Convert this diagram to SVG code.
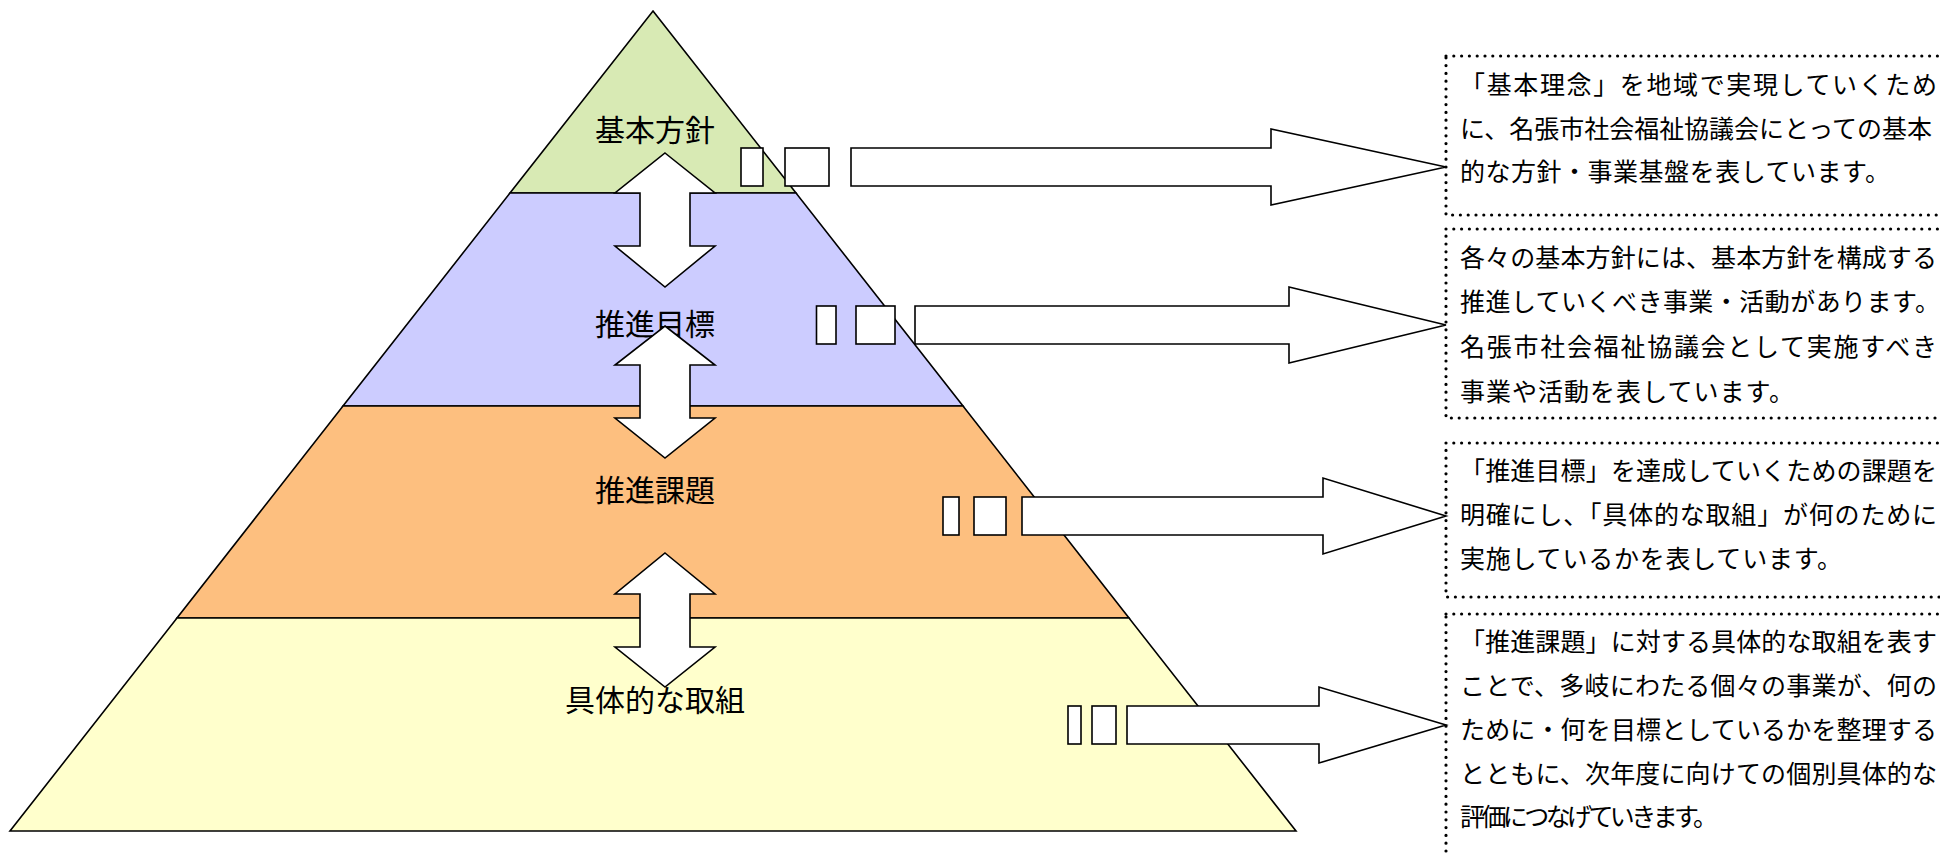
<svg xmlns="http://www.w3.org/2000/svg" width="1940" height="857" viewBox="0 0 1940 857">
<defs>
<style>
.tier{stroke:#000;stroke-width:1.6;stroke-linejoin:miter}
.lbl{font-family:"Noto Sans CJK JP","Noto Sans CJK SC",sans-serif;font-size:30px;fill:#000;text-anchor:middle;dominant-baseline:central}
.arw{fill:#fff;stroke:#000;stroke-width:1.6;stroke-linejoin:miter}
.box{fill:none;stroke:#000;stroke-width:3.2;stroke-dasharray:0 7.8;stroke-linecap:round}
.txt{font-family:"Noto Sans CJK JP","Noto Sans CJK SC",sans-serif;font-size:25px;fill:#000;dominant-baseline:central}
</style>
</defs>
<rect x="0" y="0" width="1940" height="857" fill="#fff"/>

<g id="tier-kihonhoshin">
<polygon class="tier" fill="#D8EAB4" points="653,11 796,193 510,193"/>
<text class="lbl" x="655" y="128">基本方針</text>
</g>
<g id="tier-suishinmokuhyo">
<polygon class="tier" fill="#CCCCFF" points="510,193 796,193 963,406 343,406"/>
<text class="lbl" x="655" y="322">推進目標</text>
</g>
<g id="tier-suishinkadai">
<polygon class="tier" fill="#FDBF7F" points="343,406 963,406 1129,618 177,618"/>
<text class="lbl" x="655" y="488">推進課題</text>
</g>
<g id="tier-gutaiteki">
<polygon class="tier" fill="#FFFFCC" points="177,618 1129,618 1296,831 10,831"/>
<text class="lbl" x="655" y="698">具体的な取組</text>
</g>

<g id="connectors">
<polygon class="arw" points="665,153 715,193 690,193 690,246 715,246 665,287 615,246 640,246 640,193 615,193"/>
<polygon class="arw" points="665,326 715,365 690,365 690,418 715,418 665,458 615,418 640,418 640,365 615,365"/>
<polygon class="arw" points="665,553 715,594 690,594 690,647 715,647 665,687 615,647 640,647 640,594 615,594"/>

<rect class="arw" x="741" y="148" width="22" height="38"/>
<rect class="arw" x="785" y="148" width="44" height="38"/>
<polygon class="arw" points="851,148 1271,148 1271,129 1446,167 1271,205 1271,186 851,186"/>

<rect class="arw" x="816.5" y="306" width="19.5" height="38"/>
<rect class="arw" x="856" y="306" width="39" height="38"/>
<polygon class="arw" points="915,306 1289,306 1289,287 1446,325 1289,363 1289,344 915,344"/>

<rect class="arw" x="943" y="497" width="16" height="38"/>
<rect class="arw" x="974" y="497" width="32" height="38"/>
<polygon class="arw" points="1022,497 1323,497 1323,478 1446,516 1323,554 1323,535 1022,535"/>

<rect class="arw" x="1068" y="706" width="13" height="38"/>
<rect class="arw" x="1092" y="706" width="24" height="38"/>
<polygon class="arw" points="1127,706 1319,706 1319,687 1446,725 1319,763 1319,744 1127,744"/>
</g>

<g id="desc-kihonhoshin">
<rect class="box" x="1446" y="56" width="540" height="159"/>
<text class="txt" x="1460" y="83" textLength="477" lengthAdjust="spacing">「基本理念」を地域で実現していくため</text>
<text class="txt" x="1460" y="127" textLength="472" lengthAdjust="spacing">に、名張市社会福祉協議会にとっての基本</text>
<text class="txt" x="1460" y="170" textLength="430" lengthAdjust="spacing">的な方針・事業基盤を表しています。</text>
</g>
<g id="desc-suishinmokuhyo">
<rect class="box" x="1446" y="229" width="540" height="189"/>
<text class="txt" x="1460" y="256" textLength="477" lengthAdjust="spacing">各々の基本方針には、基本方針を構成する</text>
<text class="txt" x="1460" y="300" textLength="480" lengthAdjust="spacing">推進していくべき事業・活動があります。</text>
<text class="txt" x="1460" y="345" textLength="477" lengthAdjust="spacing">名張市社会福祉協議会として実施すべき</text>
<text class="txt" x="1460" y="390" textLength="334" lengthAdjust="spacing">事業や活動を表しています。</text>
</g>
<g id="desc-suishinkadai">
<rect class="box" x="1446" y="443" width="540" height="154"/>
<text class="txt" x="1460" y="469" textLength="477" lengthAdjust="spacing">「推進目標」を達成していくための課題を</text>
<text class="txt" x="1460" y="513" textLength="477" lengthAdjust="spacing">明確にし、「具体的な取組」が何のために</text>
<text class="txt" x="1460" y="557" textLength="382" lengthAdjust="spacing">実施しているかを表しています。</text>
</g>
<g id="desc-gutaiteki">
<rect class="box" x="1446" y="614" width="540" height="300"/>
<text class="txt" x="1460" y="640" textLength="477" lengthAdjust="spacing">「推進課題」に対する具体的な取組を表す</text>
<text class="txt" x="1460" y="684" textLength="477" lengthAdjust="spacing">ことで、多岐にわたる個々の事業が、何の</text>
<text class="txt" x="1460" y="728" textLength="477" lengthAdjust="spacing">ために・何を目標としているかを整理する</text>
<text class="txt" x="1460" y="772" textLength="477" lengthAdjust="spacing">とともに、次年度に向けての個別具体的な</text>
<text class="txt" x="1460" y="815" textLength="258" lengthAdjust="spacing">評価につなげていきます。</text>
</g>
</svg>
